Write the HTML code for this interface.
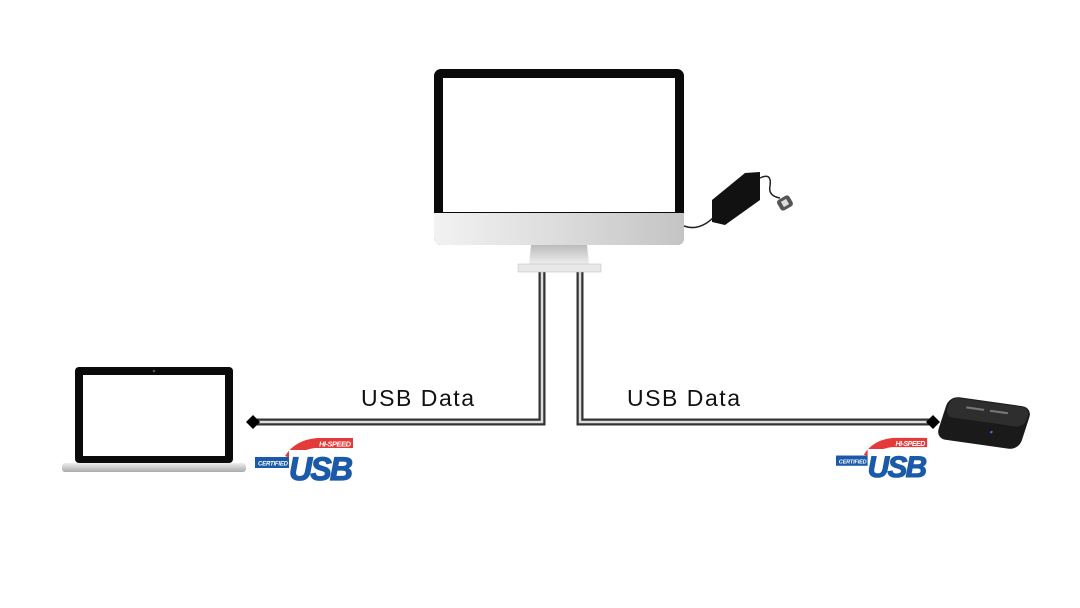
<!DOCTYPE html>
<html><head><meta charset="utf-8"><style>
html,body{margin:0;padding:0;background:#fff;}
svg{display:block;}
</style></head><body>
<svg width="1080" height="608" viewBox="0 0 1080 608" xmlns="http://www.w3.org/2000/svg">
<defs>
<linearGradient id="chin" x1="0" x2="1"><stop offset="0" stop-color="#f2f2f2"/><stop offset="0.5" stop-color="#dcdcdc"/><stop offset="1" stop-color="#c4c4c4"/></linearGradient>
<linearGradient id="neck" x1="0" y1="0" x2="0" y2="1"><stop offset="0" stop-color="#bbb"/><stop offset="1" stop-color="#eee"/></linearGradient>
<linearGradient id="lbase" x1="0" y1="0" x2="0" y2="1"><stop offset="0" stop-color="#eee"/><stop offset="1" stop-color="#aaa"/></linearGradient>
<g id="usb">
<path d="M30 20 Q40 4 62 2 L98 2 L98 12 L60 12 Q44 14 40 24 Z" fill="#e53a3a"/>
<text x="64" y="10.5" font-family="Liberation Sans,sans-serif" font-size="7.5" font-weight="bold" font-style="italic" fill="#fff" textLength="32">HI-SPEED</text>
<rect x="0" y="21" width="40" height="11" fill="#1a5aa8"/>
<text x="3" y="29.5" font-family="Liberation Sans,sans-serif" font-size="6" font-weight="bold" font-style="italic" fill="#fff" textLength="30">CERTIFIED</text>
<path d="M34 14 L100 14 L100 46 L34 46 Z" fill="#fff"/>
<text x="34" y="44" font-family="Liberation Sans,sans-serif" font-size="32" font-weight="bold" font-style="italic" fill="#1a5aa8" stroke="#1a5aa8" stroke-width="1.2" textLength="64">USB</text>
</g>
</defs>

<!-- cables -->
<path d="M542 272 V422 H252" fill="none" stroke="#333" stroke-width="7"/>
<path d="M542 272 V422 H252" fill="none" stroke="#ddd" stroke-width="2.5"/>
<path d="M580 272 V422 H932" fill="none" stroke="#333" stroke-width="7"/>
<path d="M580 272 V422 H932" fill="none" stroke="#ddd" stroke-width="2.5"/>
<polygon points="246,422 253,415 260,422 253,429" fill="#000"/>
<polygon points="926,422 933,415 940,422 933,429" fill="#000"/>

<!-- monitor -->
<rect x="434" y="69" width="250" height="176" rx="7" fill="#0a0a0a"/>
<rect x="443" y="78" width="232" height="134" fill="#fff"/>
<path d="M434 213 H684 V238 Q684 245 677 245 H441 Q434 245 434 238 Z" fill="url(#chin)"/>
<path d="M531 245 H587 L589 264 H529 Z" fill="url(#neck)"/>
<rect x="518" y="264" width="83" height="8" fill="#e8e8e8" stroke="#bbb" stroke-width="0.5"/>

<!-- power brick -->
<path d="M684 226 Q700 232 716 215" fill="none" stroke="#222" stroke-width="1.5"/>
<polygon points="712,200 745,173 760,172 760,200 725,225 712,222" fill="#111"/>
<path d="M760 178 Q772 172 770 186 Q768 196 780 198" fill="none" stroke="#222" stroke-width="1.5"/>
<g transform="translate(785,203) rotate(-30)"><rect x="-7" y="-6" width="14" height="12" rx="3" fill="#555"/><rect x="-3" y="-3" width="6" height="6" fill="#ddd"/></g>

<!-- laptop -->
<rect x="75" y="367" width="158" height="96" rx="4" fill="#0a0a0a"/>
<rect x="83" y="375" width="142" height="81" fill="#fff"/>
<circle cx="154" cy="371" r="1.3" fill="#555"/>
<rect x="62" y="463" width="184" height="9" rx="3" fill="url(#lbase)"/>

<!-- dock -->
<g transform="translate(984,423) rotate(8) skewX(-10)">
<rect x="-42" y="-22" width="84" height="44" rx="10" fill="#1a1a1a"/>
<rect x="-40" y="-21" width="80" height="20" rx="8" fill="#2e2e2e"/>
<rect x="-22" y="-14" width="18" height="2" fill="#777"/>
<rect x="2" y="-14" width="18" height="2" fill="#777"/>
<circle cx="10" cy="8" r="1.2" fill="#47f"/>
</g>

<!-- labels -->
<text x="361" y="406" font-family="Liberation Sans,sans-serif" font-size="23" fill="#111" textLength="113">USB Data</text>
<text x="627" y="406" font-family="Liberation Sans,sans-serif" font-size="23" fill="#111" textLength="113">USB Data</text>

<use href="#usb" transform="translate(255,436)"/>
<use href="#usb" transform="translate(836,436) scale(0.93)"/>
</svg>
</body></html>
